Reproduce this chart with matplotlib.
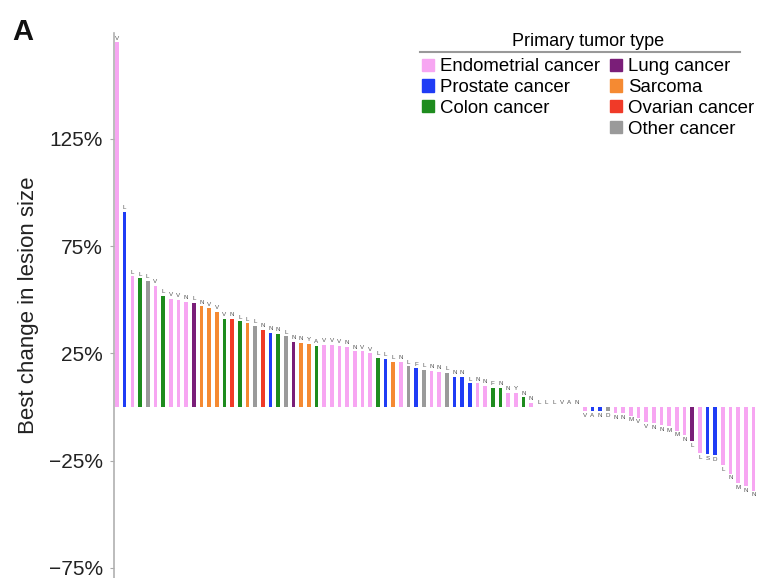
import matplotlib
matplotlib.use('agg')
import matplotlib.pyplot as plt
from matplotlib.patches import Patch
from matplotlib.lines import Line2D

plt.rcParams['font.family'] = ['Liberation Sans', 'DejaVu Sans']

# best change in lesion size (%), one bar per patient, sorted
values = [170, 91, 61, 60, 59, 56.5, 52, 50.5, 50, 49,
          48.5, 47, 46, 44.5, 41, 41, 40, 39, 38, 36,
          34.5, 34, 33, 30.5, 30, 29.5, 28.5, 29, 29, 28.5,
          28, 26, 26, 25, 23, 22.5, 21, 21, 19, 18,
          17.5, 17, 16.5, 16, 14, 14, 11, 11, 10, 9,
          9, 6.5, 6.5, 4.5, 2, 0, 0, 0, 0, 0,
          0, -2, -2, -2, -2, -3, -3, -4, -5, -7,
          -7.5, -8.5, -9, -11, -13, -16, -21.5, -22, -22.5, -27,
          -31, -35.5, -37, -39]

# tumor type per bar
types = ['E', 'P', 'E', 'C', 'O', 'E', 'C', 'E', 'E', 'E',
         'L', 'S', 'S', 'S', 'C', 'R', 'C', 'S', 'O', 'R',
         'P', 'C', 'O', 'L', 'S', 'S', 'C', 'E', 'E', 'E',
         'E', 'E', 'E', 'E', 'C', 'P', 'S', 'E', 'O', 'P',
         'O', 'E', 'E', 'O', 'P', 'P', 'P', 'E', 'E', 'C',
         'C', 'E', 'E', 'C', 'E', 'E', 'E', 'E', 'E', 'E',
         'E', 'E', 'P', 'P', 'O', 'E', 'E', 'E', 'E', 'E',
         'E', 'E', 'E', 'E', 'E', 'L', 'E', 'P', 'P', 'E',
         'E', 'E', 'E', 'E']

# residue labels on top of / below each bar
labels = ['V', 'L', 'L', 'L', 'L', 'V', 'L', 'V', 'V', 'N',
          'L', 'N', 'V', 'V', 'V', 'N', 'L', 'L', 'L', 'N',
          'N', 'N', 'L', 'N', 'N', 'Y', 'A', 'V', 'V', 'V',
          'N', 'N', 'V', 'V', 'L', 'L', 'L', 'N', 'L', 'F',
          'L', 'N', 'N', 'L', 'N', 'N', 'L', 'N', 'N', 'F',
          'N', 'N', 'Y', 'N', 'N', 'L', 'L', 'L', 'V', 'A',
          'N', 'V', 'A', 'N', 'D', 'N', 'N', 'M', 'V', 'V',
          'N', 'N', 'M', 'M', 'N', 'L', 'L', 'S', 'D', 'L',
          'N', 'M', 'N', 'N']

type_names = {'E': 'Endometrial cancer', 'P': 'Prostate cancer', 'C': 'Colon cancer',
              'L': 'Lung cancer', 'S': 'Sarcoma', 'R': 'Ovarian cancer', 'O': 'Other cancer'}
type_colors = {'E': '#f7a6f2', 'P': '#1f3cf5', 'C': '#1e8c1e', 'L': '#7a1e78',
               'S': '#f58a32', 'R': '#f03a28', 'O': '#9a9a9a'}

yticks = [125, 75, 25, -25, -75]

fig = plt.figure(figsize=(7.57, 5.78), dpi=100)
ax = fig.add_axes([114/757, 0, 1 - 114/757, (578 - 33)/578])

xs = list(range(len(values)))
ax.bar(xs, values, width=0.46, color=[type_colors[t] for t in types], linewidth=0)

for x, v, lab in zip(xs, values, labels):
    if v >= 0:
        ax.text(x, v + 0.8, lab, fontsize=4.5, color='#555555', ha='center', va='bottom')
    else:
        ax.text(x, v - 0.8, lab, fontsize=4.5, color='#555555', ha='center', va='top')

ax.set_xlim(-0.4, 83.45)
ax.set_ylim(-79.7, 174.4)
ax.set_yticks(yticks)
ax.set_yticklabels([('\u2212' if t < 0 else '') + '%d%%' % abs(t) for t in yticks])
ax.tick_params(axis='y', length=3, color='#aaaaaa', labelsize=15, labelcolor='#222222', pad=5)
ax.set_xticks([])
for s in ['top', 'right', 'bottom']:
    ax.spines[s].set_visible(False)
ax.spines['left'].set_color('#b0b0b0')
ax.spines['left'].set_linewidth(1.2)
ax.set_ylabel('Best change in lesion size', fontsize=16, color='#222222', labelpad=7)

fig.text(12/757, 1 - 40/578, 'A', fontsize=21, fontweight='bold', color='#111111')

# legend: three entries in first column, four in second
order = ['E', 'P', 'C', None, 'L', 'S', 'R', 'O']
handles = []
names = []
for k in order:
    if k is None:
        handles.append(Patch(color='none'))
        names.append('')
    else:
        handles.append(Patch(color=type_colors[k]))
        names.append(type_names[k])
leg = fig.legend(handles, names, ncol=2, loc='upper left', bbox_to_anchor=(409/757, 1 - 20/578),
                 frameon=False, fontsize=13.4, title='Primary tumor type', title_fontsize=13,
                 handlelength=0.65, handleheight=0.65, handletextpad=0.3, columnspacing=0.55,
                 labelspacing=0.2, borderpad=0.2)
leg._legend_box.sep = 6
fig.add_artist(Line2D([420/757, 740/757], [1 - 52/578, 1 - 52/578], color='#999999', lw=1.5,
                      transform=fig.transFigure))

fig.savefig('out.png', dpi=100)
